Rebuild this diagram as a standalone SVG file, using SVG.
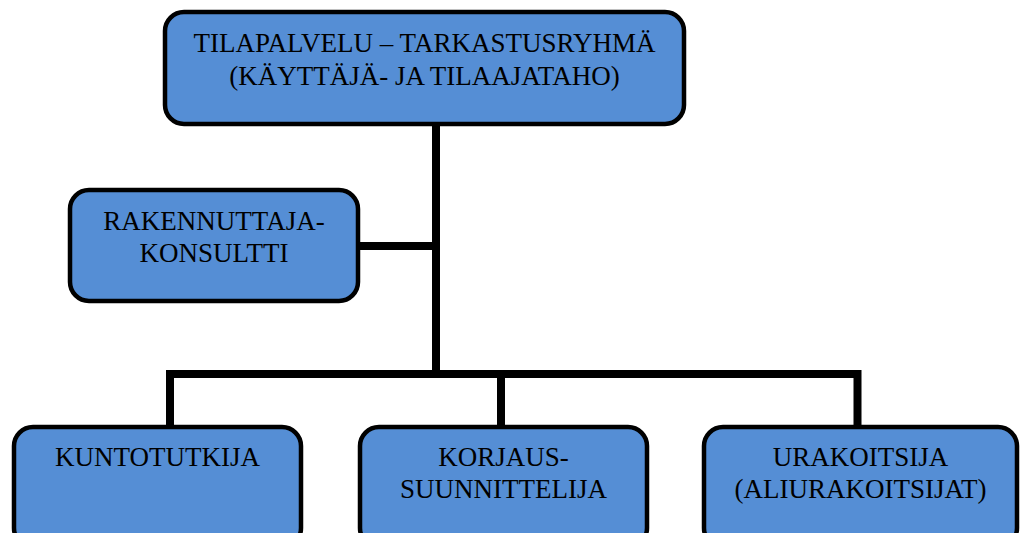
<svg xmlns="http://www.w3.org/2000/svg" width="1020" height="533" viewBox="0 0 1020 533">
  <style>
    .box { fill: #558ed5; stroke: #000; stroke-width: 4.5; }
    .lbl { font-family: "Liberation Serif", "Times New Roman", serif; font-size: 27px; fill: #000; text-anchor: middle; }
    .wire { fill: none; stroke: #000; stroke-width: 8; stroke-linejoin: miter; stroke-linecap: butt; }
  </style>
  <rect width="1020" height="533" fill="#fff"/>

  <!-- connectors -->
  <g id="connectors">
    <path class="wire" d="M436,125 V378"/>
    <path class="wire" d="M360,246 H436"/>
    <path class="wire" d="M170,425 V374 H857.5 V425"/>
    <path class="wire" d="M501,374 V425"/>
  </g>

  <!-- nodes -->
  <g id="tilapalvelu">
    <rect class="box" x="165" y="12" width="519" height="112" rx="19"/>
    <text class="lbl" x="424.5" y="52">TILAPALVELU – TARKASTUSRYHMÄ</text>
    <text class="lbl" x="424.5" y="85">(KÄYTTÄJÄ- JA TILAAJATAHO)</text>
  </g>

  <g id="rakennuttaja">
    <rect class="box" x="70" y="190" width="288" height="111" rx="19"/>
    <text class="lbl" x="214" y="230">RAKENNUTTAJA-</text>
    <text class="lbl" x="214" y="262">KONSULTTI</text>
  </g>

  <g id="kuntotutkija">
    <rect class="box" x="14" y="427" width="287" height="120" rx="19"/>
    <text class="lbl" x="157.5" y="466">KUNTOTUTKIJA</text>
  </g>

  <g id="korjaussuunnittelija">
    <rect class="box" x="360" y="427" width="287" height="120" rx="19"/>
    <text class="lbl" x="503.5" y="466">KORJAUS-</text>
    <text class="lbl" x="503.5" y="498">SUUNNITTELIJA</text>
  </g>

  <g id="urakoitsija">
    <rect class="box" x="704" y="427" width="313" height="120" rx="19"/>
    <text class="lbl" x="860.5" y="466">URAKOITSIJA</text>
    <text class="lbl" x="860.5" y="498">(ALIURAKOITSIJAT)</text>
  </g>
</svg>
